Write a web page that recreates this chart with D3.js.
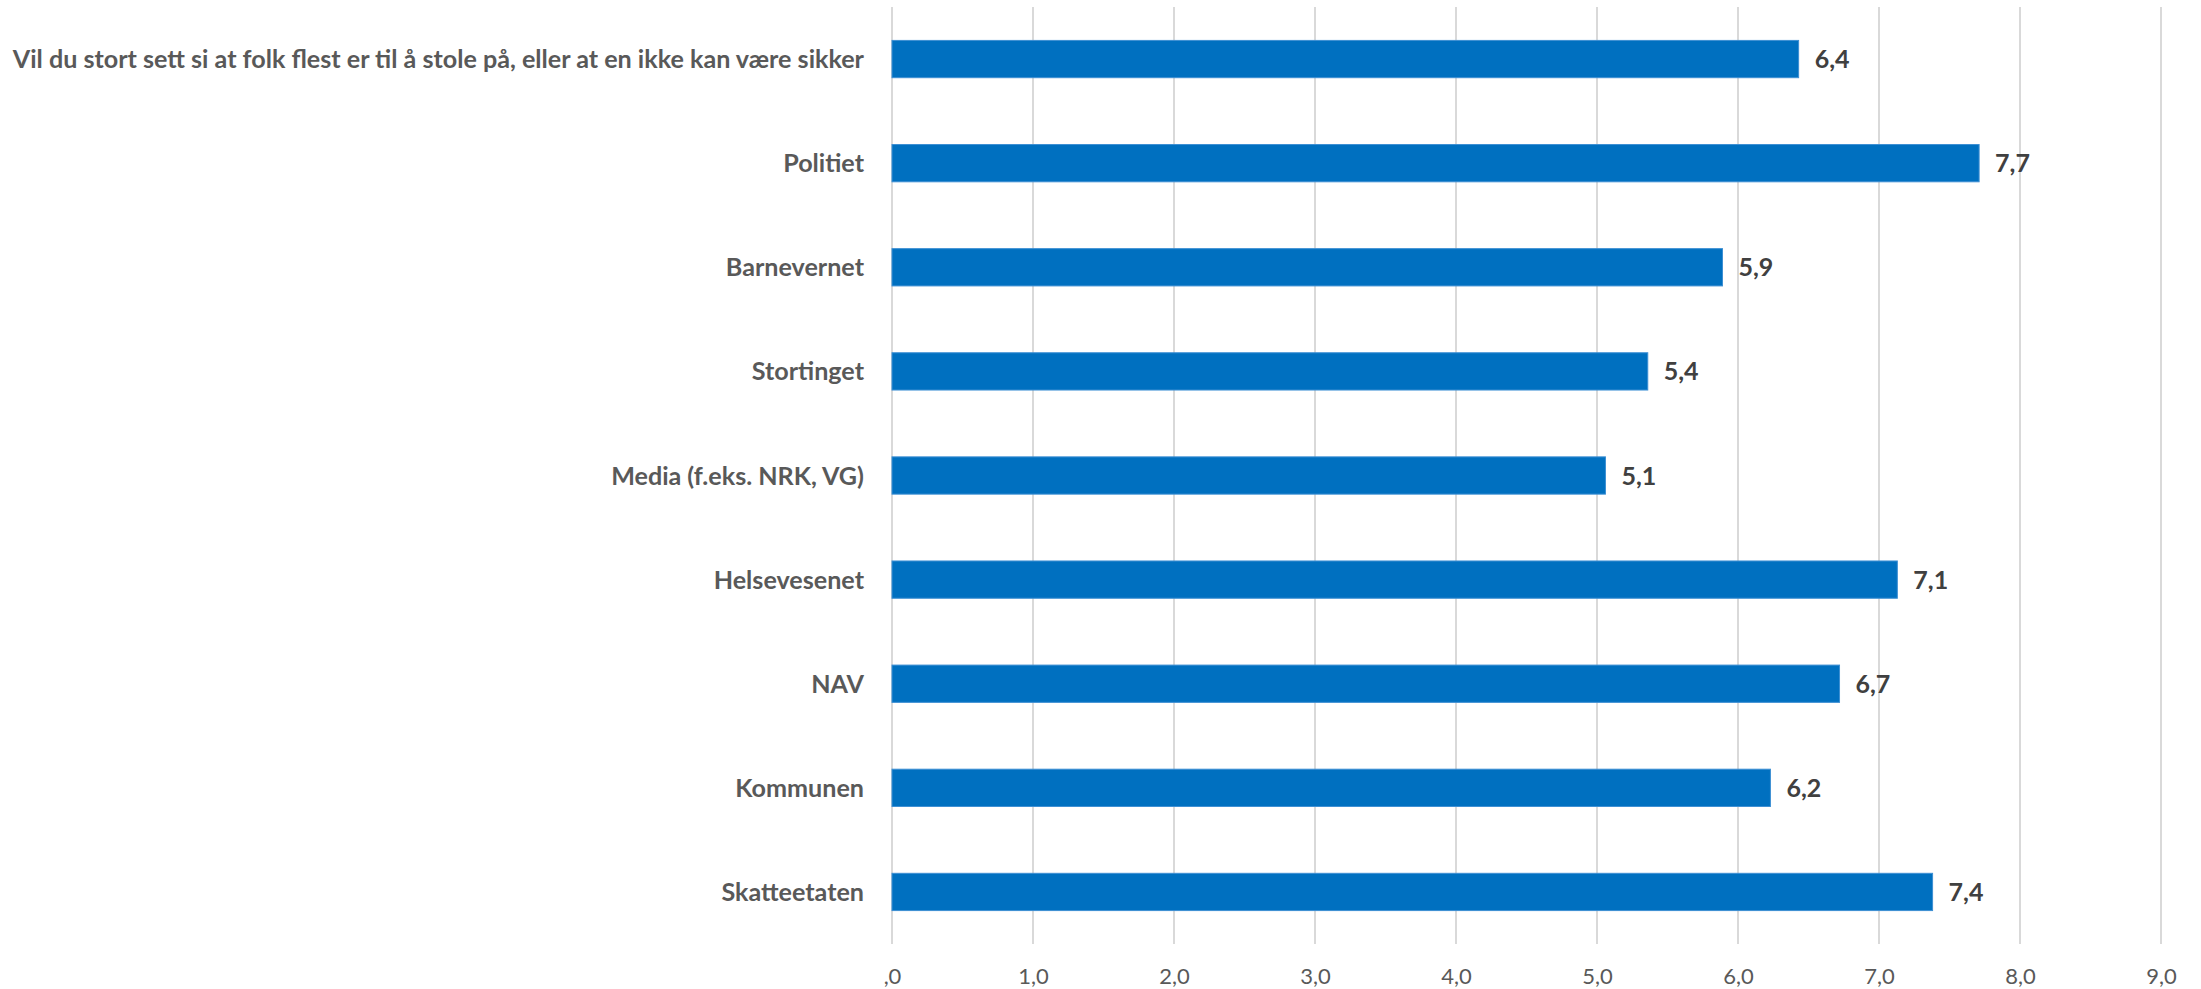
<!DOCTYPE html>
<html>
<head>
<meta charset="utf-8">
<script src="https://cdn.jsdelivr.net/npm/d3@7"></script>
<style>
  html, body { margin: 0; padding: 0; background: #ffffff; }
  svg { display: block; }
  text { font-family: Lato, "Open Sans", "Liberation Sans", sans-serif; }
</style>
</head>
<body>
<div id="chart"></div>
<script>
// ---- data ----
const categories = [
  "Vil du stort sett si at folk flest er til å stole på, eller at en ikke kan være sikker",
  "Politiet",
  "Barnevernet",
  "Stortinget",
  "Media (f.eks. NRK, VG)",
  "Helsevesenet",
  "NAV",
  "Kommunen",
  "Skatteetaten"
];
const values = [6.43, 7.71, 5.89, 5.36, 5.06, 7.13, 6.72, 6.23, 7.38];
const tickValues = [0, 1, 2, 3, 4, 5, 6, 7, 8, 9];
const tickLabels = [",0", "1,0", "2,0", "3,0", "4,0", "5,0", "6,0", "7,0", "8,0", "9,0"];

// ---- layout ----
const W = 2201, H = 989;
const plotLeft = 892, plotRight = 2161, plotTop = 7, plotBottom = 944;

const svg = d3.select("#chart").append("svg")
  .attr("width", W).attr("height", H);

const x = d3.scaleLinear().domain([0, 9]).range([plotLeft, plotRight]);
const y = d3.scaleBand().domain(categories).range([plotTop, plotBottom])
  .paddingInner(0.642).paddingOuter(0.321);

// gridlines
svg.append("g").selectAll("line").data(tickValues).join("line")
  .attr("x1", d => x(d)).attr("x2", d => x(d))
  .attr("y1", plotTop).attr("y2", plotBottom)
  .attr("stroke", "#d9d9d9").attr("stroke-width", 2);

// x axis tick labels
const xAxis = d3.axisBottom(x).tickValues(tickValues)
  .tickFormat((d, i) => tickLabels[i]).tickSize(0).tickPadding(0);
const gx = svg.append("g").attr("transform", `translate(0,${plotBottom})`).call(xAxis);
gx.select(".domain").remove();
gx.selectAll("text")
  .attr("y", 32).attr("dy", "0.35em")
  .attr("fill", "#595959")
  .style("font-size", "22px")
  .style("font-family", "Lato, 'Open Sans', sans-serif");

// bars
svg.append("g").selectAll("rect").data(values).join("rect")
  .attr("x", x(0))
  .attr("y", (d, i) => y(categories[i]))
  .attr("width", d => x(d) - x(0))
  .attr("height", y.bandwidth())
  .attr("fill", "#0070c0")
  .attr("stroke", "#3d8fd3").attr("stroke-width", 1);

// data labels
const fmt = d3.format(".1f");
svg.append("g").selectAll("text").data(values).join("text")
  .attr("x", d => x(d) + 16)
  .attr("y", (d, i) => y(categories[i]) + y.bandwidth() / 2)
  .attr("dy", "0.36em")
  .attr("fill", "#404040")
  .style("font-size", "25px")
  .style("font-weight", "700")
  .text(d => fmt(d).replace(".", ","));

// category labels (scaled horizontally to mimic the original font width)
const catG = svg.append("g");
const catTexts = catG.selectAll("text").data(categories).join("text")
  .attr("text-anchor", "end")
  .attr("dy", "0.36em")
  .attr("fill", "#595959")
  .style("font-size", "25px")
  .style("font-weight", "700")
  .text(d => d);
const longW = catTexts.nodes()[0].getComputedTextLength();
const k = 852 / longW;
catTexts.attr("transform", d => `translate(864,${y(d) + y.bandwidth() / 2}) scale(${k},1)`);
</script>
</body>
</html>
